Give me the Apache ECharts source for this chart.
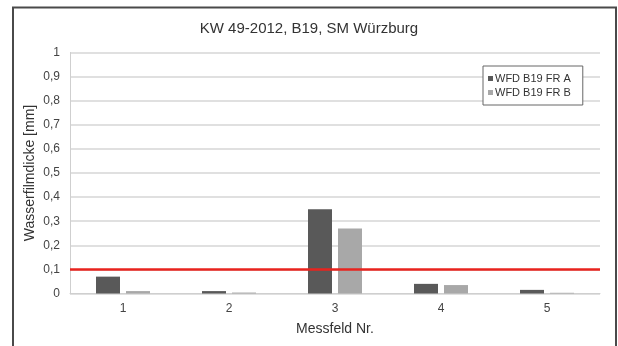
<!DOCTYPE html>
<html><head><meta charset="utf-8">
<script src="https://cdn.jsdelivr.net/npm/echarts@6/dist/echarts.min.js"></script>
<style>html,body{margin:0;padding:0;background:#fff}#c{width:618px;height:346px}</style>
</head><body><div id="c"></div>
<script>
var categories = ['1','2','3','4','5'];
var seriesA = [0.07, 0.01, 0.35, 0.04, 0.015];
var seriesB = [0.01, 0.004, 0.27, 0.035, 0.003];
var limitValue = 0.1;
var yTickLabels = ['0','0,1','0,2','0,3','0,4','0,5','0,6','0,7','0,8','0,9','1'];
var nameA = 'WFD B19 FR A';
var nameB = 'WFD B19 FR B';

var chart = echarts.init(document.getElementById('c'), null, {renderer:'canvas'});
var font = 'Liberation Sans, Arial, sans-serif';
chart.setOption({
  animation:false,
  backgroundColor:'#fff',
  textStyle:{fontFamily:font},
  graphic:[{type:'rect', shape:{x:13, y:7.5, width:603, height:345}, style:{fill:'none', stroke:'#4a4a4a', lineWidth:2}, z:-1}],
  title:{text:'KW 49-2012, B19, SM Würzburg', left:'center', top:16, textStyle:{fontFamily:font, fontSize:15, fontWeight:'normal', color:'#333'}},
  legend:{
    data:[nameA, nameB], orient:'vertical', left:483, top:66, itemWidth:5, itemHeight:5, itemGap:3,
    padding:[7,12,7,5], borderColor:'#666', borderWidth:1, backgroundColor:'#fff',
    textStyle:{fontSize:11, color:'#333', fontFamily:font, padding:[0,0,0,-3]}, icon:'rect'
  },
  grid:{left:70, right:18, top:52.5, bottom:52.5},
  xAxis:{type:'category', data:categories, name:'Messfeld Nr.', nameLocation:'middle', nameGap:28.5,
    nameMoveOverlap:false,
    nameTextStyle:{fontSize:14, color:'#333', fontFamily:font},
    axisLine:{lineStyle:{color:'#cfcfcf'}}, axisTick:{show:false},
    axisLabel:{fontSize:12, color:'#444', margin:9, fontFamily:font}},
  yAxis:{type:'value', min:0, max:1, interval:0.1, name:'Wasserfilmdicke [mm]', nameLocation:'middle', nameGap:33,
    nameMoveOverlap:false,
    nameTextStyle:{fontSize:14, color:'#333', fontFamily:font},
    axisLine:{show:true, lineStyle:{color:'#cfcfcf'}}, axisTick:{show:false},
    splitLine:{lineStyle:{color:'#d6d6d6', width:1.5}},
    axisLabel:{fontSize:12, color:'#444', margin:10, fontFamily:font, formatter:function(v){return yTickLabels[Math.round(v*10)];}}},
  series:[
    {name:nameA, type:'bar', data:seriesA, barWidth:24, barGap:'25%', itemStyle:{color:'#595959'},
     markLine:{silent:true, symbol:'none', label:{show:false}, lineStyle:{color:'#e8231e', width:2.5, type:'solid'}, data:[{yAxis:limitValue}], z:10}},
    {name:nameB, type:'bar', data:seriesB, barWidth:24, itemStyle:{color:'#a8a8a8'}}
  ]
});
</script></body></html>
